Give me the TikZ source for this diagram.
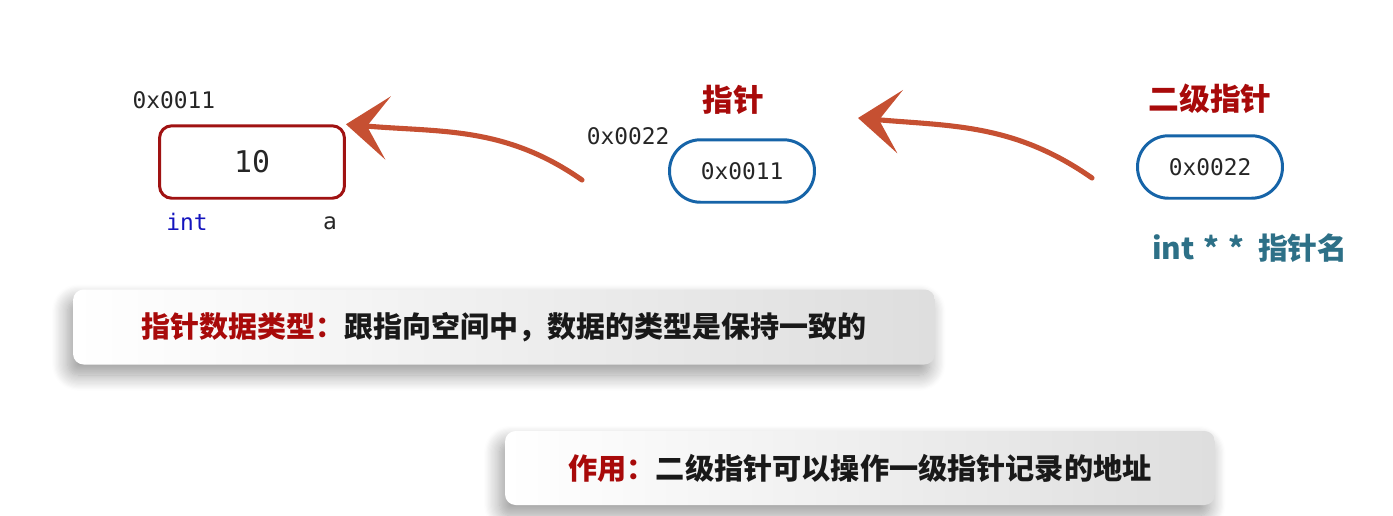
\documentclass[tikz,border=0pt]{standalone}
\usepackage{fontspec}
\setmonofont{DejaVu Sans Mono}
\newfontfamily\cjk{Noto Sans CJK SC}
\usepackage{tikz}
\usetikzlibrary{arrows.meta,positioning,shadows.blur}
\definecolor{boxRed}{RGB}{160,18,18}
\definecolor{ptrBlue}{RGB}{22,100,168}
\definecolor{arrowRed}{RGB}{198,80,50}
\definecolor{typeBlue}{RGB}{20,20,190}
\definecolor{nameTeal}{RGB}{45,112,135}
\definecolor{titleRed}{RGB}{168,10,10}

\tikzset{
  mono/.style={font=\ttfamily\fontsize{13}{15}\selectfont, text=black!85},
  valbox/.style={draw=boxRed, line width=1.7pt, rounded corners=7pt,
    minimum width=3.7cm, minimum height=1.45cm},
  ptrbox/.style={draw=ptrBlue, line width=1.7pt, rounded corners=0.62cm,
    minimum width=2.9cm, minimum height=1.25cm},
  brush/.style={arrowRed, line width=2.9pt, line cap=round,
    -{Stealth[length=24pt, width=36pt, inset=12pt]}},
  note/.style={rounded corners=6pt, left color=white, right color=black!13,
    blur shadow={shadow xshift=-3pt, shadow yshift=-6pt, shadow blur radius=9pt,
      shadow blur steps=14, shadow opacity=40},
    font=\cjk\bfseries\fontsize{16.5}{20}\selectfont, text=black!90},
  heading/.style={font=\cjk\bfseries\fontsize{17.5}{20}\selectfont, text=titleRed}
}

\begin{document}
\begin{tikzpicture}[x=0.02cm, y=-0.02cm]
\useasboundingbox (0,0) rectangle (1393,515);

% variable a
\node[valbox, mono, font=\ttfamily\fontsize{17}{20}\selectfont] (val) at (252,162) {10};
\node[mono] (valaddr) at (174,100) {0x0011};
\node[mono, text=typeBlue] (valtype) at (187,222) {int};
\node[mono] (valname) at (330,223) {a};

% first pointer
\node[ptrbox, mono] (ptr) at (742,171) {0x0011};
\node[mono] (ptraddr) at (628,136) {0x0022};
\node[heading] (ptrtitle) at (733,100) {指针};

% second pointer
\node[ptrbox, mono] (pptr) at (1210,167) {0x0022};
\node[heading] (pptrtitle) at (1210,99) {二级指针};
\node[font=\cjk\bfseries\fontsize{17}{20}\selectfont, text=nameTeal] (pptrdecl) at (1250,248)
  {int\hspace{5pt}*\hspace{5pt}*\hspace{8pt}指针名};

% arrows
\coordinate (tail1) at (582,180);
\coordinate (tail2) at (1092,178);
\coordinate (head2) at (858,118);
\draw[brush] (tail1) to[out=145, in=-5] (val.north east);
\draw[brush] (tail2) to[out=145, in=-5] (head2);

% notes
\node[note, minimum width=17.24cm, minimum height=1.5cm] (typenote) at (504,327)
  {\textcolor{titleRed}{指针数据类型：}跟指向空间中，数据的类型是保持一致的};
\node[note, minimum width=14.2cm, minimum height=1.48cm, font=\cjk\bfseries\fontsize{16.6}{20}\selectfont] (usenote) at (860,468)
  {\textcolor{titleRed}{作用：}二级指针可以操作一级指针记录的地址};
\end{tikzpicture}
\end{document}
